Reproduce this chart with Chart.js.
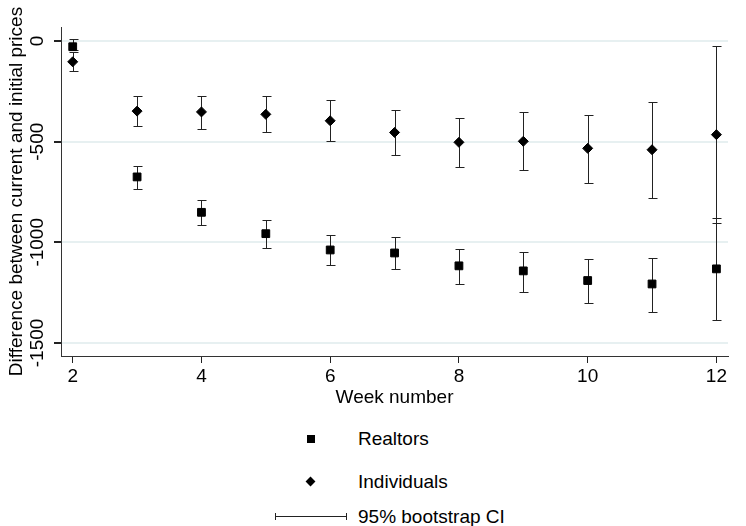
<!DOCTYPE html>
<html>
<head>
<meta charset="utf-8">
<script src="https://cdn.jsdelivr.net/npm/chart.js@4.4.1/dist/chart.umd.min.js"></script>
<style>
  html, body { margin: 0; padding: 0; background: #fff; }
  body { width: 746px; height: 526px; position: relative; overflow: hidden; font-family: "Liberation Sans", Arial, sans-serif; }
  #wrap { position: absolute; left: 0; top: 0; width: 746px; height: 415px; }
  .leg-row { position: absolute; left: 0; height: 24px; line-height: 24px; font-size: 19px; color: #000; }
  .leg-text { position: absolute; left: 358px; top: 0; white-space: nowrap; }
  .mk-square { position: absolute; left: 307px; top: 8px; width: 8px; height: 8px; background: #000; }
  .mk-diamond { position: absolute; left: 307px; top: 8px; width: 7px; height: 7px; background: #000; transform: rotate(45deg); }
  .mk-ci { position: absolute; left: 275px; top: 11px; width: 72px; height: 1px; background: #222; }
  .mk-ci::before, .mk-ci::after { content: ''; position: absolute; top: -3px; width: 1px; height: 7px; background: #222; }
  .mk-ci::before { left: 0; }
  .mk-ci::after { right: 0; }
</style>
</head>
<body>
<div id="wrap"><canvas id="chart" width="746" height="415"></canvas></div>
<div class="leg-row" style="top:427px"><div class="mk-square"></div><div class="leg-text">Realtors</div></div>
<div class="leg-row" style="top:470px"><div class="mk-diamond"></div><div class="leg-text">Individuals</div></div>
<div class="leg-row" style="top:505px"><div class="mk-ci"></div><div class="leg-text">95% bootstrap CI</div></div>
<script>
// week numbers on the x axis
const weeks = [2, 3, 4, 5, 6, 7, 8, 9, 10, 11, 12];

// realtors: point estimate and 95% bootstrap CI
const realtors = [-28, -675, -851, -957, -1038, -1053, -1117, -1142, -1190, -1207, -1132];
const realtorsLo = [-45, -735, -915, -1028, -1112, -1134, -1208, -1246, -1304, -1347, -1384];
const realtorsHi = [8, -619, -788, -889, -965, -975, -1033, -1049, -1081, -1076, -880];

// individuals: point estimate and 95% bootstrap CI
const individuals = [-103, -348, -352, -364, -396, -454, -503, -498, -533, -540, -465];
const individualsLo = [-149, -422, -437, -453, -497, -566, -624, -641, -705, -780, -905];
const individualsHi = [-56, -273, -273, -273, -295, -343, -381, -353, -369, -305, -23];

const xTicks = [2, 4, 6, 8, 10, 12];
const yTicks = [0, -500, -1000, -1500];

const FONT = '"Liberation Sans", Arial, sans-serif';

const toPoints = (ys) => weeks.map((w, i) => ({ x: w, y: ys[i] }));

// vertical CI bars with caps, drawn under the markers
const errorBars = {
  id: 'errorBars',
  beforeDatasetsDraw(chart) {
    const { ctx, scales: { x, y } } = chart;
    const sets = [
      [realtorsLo, realtorsHi],
      [individualsLo, individualsHi],
    ];
    ctx.save();
    ctx.strokeStyle = '#222';
    ctx.lineWidth = 1;
    sets.forEach(([lo, hi]) => {
      weeks.forEach((w, i) => {
        const px = Math.round(x.getPixelForValue(w)) + 0.5;
        const y1 = Math.round(y.getPixelForValue(lo[i])) + 0.5;
        const y2 = Math.round(y.getPixelForValue(hi[i])) + 0.5;
        ctx.beginPath();
        ctx.moveTo(px, y1);
        ctx.lineTo(px, y2);
        ctx.moveTo(px - 4, y1);
        ctx.lineTo(px + 5, y1);
        ctx.moveTo(px - 4, y2);
        ctx.lineTo(px + 5, y2);
        ctx.stroke();
      });
    });
    ctx.restore();
  },
};

// Stata-style vertical y tick labels
const yLabels = {
  id: 'yLabels',
  afterDraw(chart) {
    const { ctx, scales: { y } } = chart;
    ctx.save();
    ctx.fillStyle = '#000';
    ctx.font = '19px ' + FONT;
    ctx.textAlign = 'center';
    ctx.textBaseline = 'middle';
    y.ticks.forEach((t) => {
      ctx.save();
      ctx.translate(38, y.getPixelForValue(t.value));
      ctx.rotate(-Math.PI / 2);
      ctx.fillText(String(t.value), 0, 0);
      ctx.restore();
    });
    ctx.restore();
  },
};

new Chart(document.getElementById('chart'), {
  type: 'scatter',
  data: {
    datasets: [
      {
        label: 'Realtors',
        data: toPoints(realtors),
        pointStyle: 'rect',
        pointRadius: 5.5,
        pointBorderWidth: 1,
        backgroundColor: '#000',
        borderColor: '#000',
      },
      {
        label: 'Individuals',
        data: toPoints(individuals),
        pointStyle: 'rectRot',
        pointRadius: 5,
        pointBorderWidth: 1,
        backgroundColor: '#000',
        borderColor: '#000',
      },
    ],
  },
  options: {
    responsive: false,
    animation: false,
    layout: { padding: { top: 27, right: 18, left: 0, bottom: 0 } },
    plugins: { legend: { display: false }, tooltip: { enabled: false } },
    scales: {
      x: {
        type: 'linear',
        min: 1.818,
        max: 12.18,
        afterBuildTicks: (s) => { s.ticks = xTicks.map((v) => ({ value: v })); },
        afterFit: (s) => { s.height = 59; },
        grid: { drawOnChartArea: false, drawTicks: true, tickLength: 7, tickColor: '#222' },
        border: { display: true, color: '#333', width: 1 },
        ticks: { color: '#000', padding: 2, font: { family: FONT, size: 19 } },
        title: { display: true, text: 'Week number', color: '#000', padding: { top: 0, bottom: 6 }, font: { family: FONT, size: 19 } },
      },
      y: {
        type: 'linear',
        min: -1565,
        max: 70,
        afterBuildTicks: (s) => { s.ticks = yTicks.map((v) => ({ value: v })); },
        afterFit: (s) => { s.width = 61; },
        grid: { color: '#e7f0f1', lineWidth: 2, drawTicks: true, tickLength: 7, tickColor: '#222' },
        border: { display: true, color: '#333', width: 1 },
        ticks: { display: false },
        title: { display: true, text: 'Difference between current and initial prices', color: '#000', padding: { top: 5, bottom: 0 }, font: { family: FONT, size: 19 } },
      },
    },
  },
  plugins: [errorBars, yLabels],
});
</script>
</body>
</html>
